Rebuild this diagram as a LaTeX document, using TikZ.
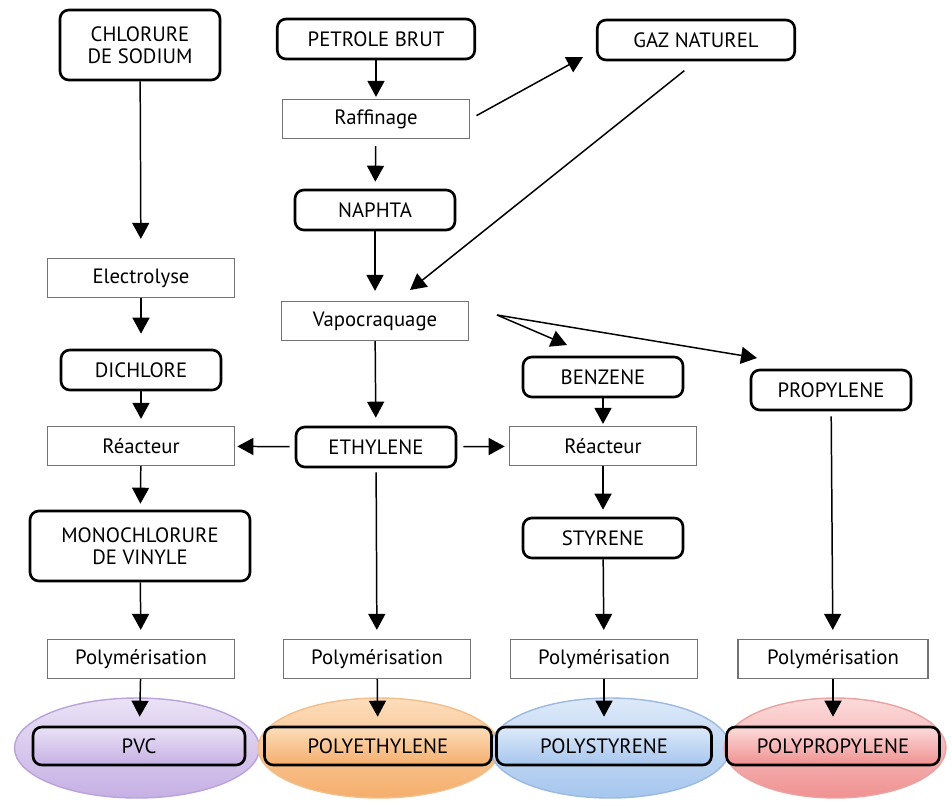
\documentclass[tikz,border=0pt]{standalone}
\usepackage{fontspec}
\setmainfont{PT Sans}
\usepackage{tikz}
\usetikzlibrary{shapes.geometric, positioning, arrows.meta}

\definecolor{pvcclair}{HTML}{EAE2F6}
\definecolor{pvcfonce}{HTML}{C6B0E4}
\definecolor{pvcbord}{HTML}{B9A3D9}
\definecolor{peclair}{HTML}{FCDDBB}
\definecolor{pefonce}{HTML}{F5AE6C}
\definecolor{pebord}{HTML}{F1BE8C}
\definecolor{psclair}{HTML}{DDE9F9}
\definecolor{psfonce}{HTML}{A6C6EE}
\definecolor{psbord}{HTML}{9DB9E0}
\definecolor{ppclair}{HTML}{FCDADA}
\definecolor{ppfonce}{HTML}{F09191}
\definecolor{ppbord}{HTML}{E9A3A3}

\tikzset{
    produit/.style={draw, rounded corners=5pt, line width=1.5pt,
                    minimum width=3.2cm, minimum height=0.8cm, inner sep=2pt,
                    align=center, font=\fontsize{11.8}{12.5}\selectfont},
    etape/.style={draw=black!55, line width=0.7pt,
                  minimum width=3.75cm, minimum height=0.78cm, inner sep=2pt,
                  font=\fontsize{11.8}{12.5}\selectfont},
    fleche/.style={-{Triangle[length=0.32cm, width=0.34cm]}, line width=0.85pt},
    polymere/.style={ellipse, draw=#1bord, line width=0.8pt,
                     top color=#1clair, bottom color=#1fonce,
                     minimum height=2cm},
    final/.style={produit, minimum height=0.76cm,
                  top color=#1clair, bottom color=#1fonce}
}

\begin{document}
\begin{tikzpicture}[x=0.02cm, y=-0.02cm]
    \useasboundingbox (0,0) rectangle (952,805);

    % matieres premieres
    \node (chlorure) [produit, minimum height=1.4cm] at (140,45) {CHLORURE\\DE SODIUM};
    \node (petrole) [produit, minimum width=3.95cm] at (376,39) {PETROLE BRUT};
    \node (gaz) [produit, minimum width=3.95cm] at (696,40) {GAZ NATUREL};
    \node (raffinage) [etape] at (376,119) {Raffinage};
    \node (naphta) [produit] at (375,210) {NAPHTA};
    \node (electrolyse) [etape] at (141,278) {Electrolyse};
    \node (vapo) [etape] at (375,321) {Vapocraquage};

    % intermediaires
    \node (dichlore) [produit] at (141,370) {DICHLORE};
    \node (benzene) [produit] at (603,377) {BENZENE};
    \node (propylene) [produit] at (831,390) {PROPYLENE};
    \node (reacteurA) [etape] at (141,446) {Réacteur};
    \node (ethylene) [produit] at (376,447) {ETHYLENE};
    \node (reacteurB) [etape] at (603,446) {Réacteur};
    \node (monochlorure) [produit, minimum width=4.4cm, minimum height=1.4cm]
        at (140,546) {MONOCHLORURE\\DE VINYLE};
    \node (styrene) [produit] at (603,538) {STYRENE};

    % polymerisation
    \node (polyA) [etape] at (141,659) {Polymérisation};
    \node (polyB) [etape] at (377,659) {Polymérisation};
    \node (polyC) [etape] at (604,659) {Polymérisation};
    \node (polyD) [etape, minimum width=3.8cm] at (833,659) {Polymérisation};

    \node (ellA) [polymere=pvc, minimum width=4.9cm] at (137,748) {};
    \node (ellB) [polymere=pe, minimum width=4.84cm] at (379,748) {};
    \node (ellC) [polymere=ps, minimum width=4.8cm] at (610,748) {};
    \node (ellD) [polymere=pp, minimum width=4.44cm] at (835,748) {};
    \node (pvc) [final=pvc, minimum width=4.24cm] at (139,746) {PVC};
    \node (pe) [final=pe, minimum width=4.54cm] at (378,746) {POLYETHYLENE};
    \node (ps) [final=ps, minimum width=4.3cm] at (604,746) {POLYSTYRENE};
    \node (pp) [final=pp, minimum width=4.26cm] at (833,746) {POLYPROPYLENE};

    \coordinate (versgaz) at (583,57);
    \coordinate (versvapo) at (410,290);
    \coordinate (depart) at (497,315);
    \coordinate (versbenzene) at (567,345);
    \coordinate (verspropylene) at (757,358);

    % fleches
    \draw[fleche, shorten >=0.38cm] (chlorure) -- (electrolyse);
    \draw[fleche, shorten >=0.04cm] (petrole) -- (raffinage);
    \draw[fleche, shorten <=0.14cm, shorten >=0.14cm] (raffinage) -- (naphta);
    \draw[fleche, shorten <=0.14cm] (raffinage.east) -- (versgaz);
    \draw[fleche, shorten <=0.3cm] (gaz.south) -- (versvapo);
    \draw[fleche, shorten >=0.2cm] (naphta) -- (vapo);
    \draw[fleche, shorten >=0.3cm] (electrolyse) -- (dichlore);
    \draw[fleche] (depart) -- (versbenzene);
    \draw[fleche] (depart) -- (verspropylene);
    \draw[fleche, shorten >=0.16cm] (vapo) -- (ethylene);
    \draw[fleche, shorten >=0.14cm] (dichlore) -- (reacteurA);
    \draw[fleche, shorten <=0.1cm, shorten >=0.04cm] (ethylene) -- (reacteurA);
    \draw[fleche, shorten <=0.12cm, shorten >=0.08cm] (ethylene) -- (reacteurB);
    \draw[fleche, shorten >=0.04cm] (benzene) -- (reacteurB);
    \draw[fleche, shorten >=0.12cm] (reacteurA) -- (monochlorure);
    \draw[fleche, shorten >=0.14cm] (reacteurB) -- (styrene);
    \draw[fleche, shorten >=0.18cm] (monochlorure) -- (polyA);
    \draw[fleche, shorten <=0.08cm, shorten >=0.18cm] (ethylene) -- (polyB);
    \draw[fleche, shorten >=0.18cm] (styrene) -- (polyC);
    \draw[fleche, shorten <=0.1cm, shorten >=0.18cm] (propylene) -- (polyD);
    \foreach \p/\f in {polyA/pvc, polyB/pe, polyC/ps, polyD/pp}
        \draw[fleche, shorten >=0.18cm] (\p) -- (\f);
\end{tikzpicture}
\end{document}
